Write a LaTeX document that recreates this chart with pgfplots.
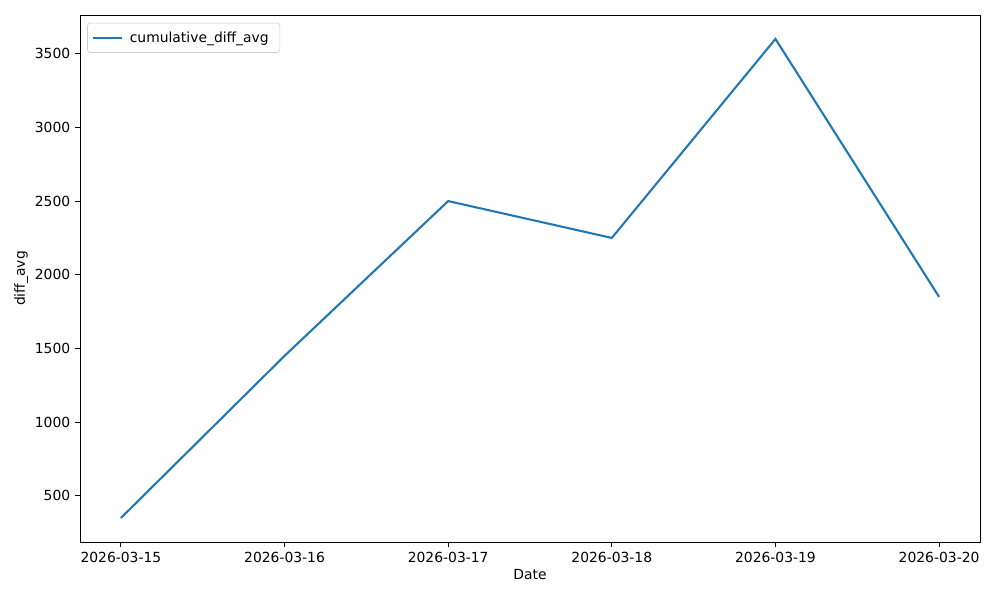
\documentclass[border=0pt]{standalone}
\usepackage{pgfplots}
\pgfplotsset{compat=1.18}
\usepackage{fontspec}
\setmainfont{DejaVu Sans}
\definecolor{tabblue}{HTML}{1F77B4}
\begin{document}
\begin{tikzpicture}
\begin{axis}[
  scale only axis,
  width=648pt, height=379.4pt,
  xmin=-0.25, xmax=5.25,
  ymin=187.5, ymax=3762.5,
  xtick={0,1,2,3,4,5},
  xticklabels={2026-03-15,2026-03-16,2026-03-17,2026-03-18,2026-03-19,2026-03-20},
  ytick={500,1000,1500,2000,2500,3000,3500},
  tick align=outside,
  tick pos=left,
  major tick length=3.5pt,
  every tick/.style={black, line width=0.8pt},
  axis line style={line width=0.6pt},
  /pgf/number format/assume math mode=true,
  /pgf/number format/1000 sep={},
  tick label style={font=\fontsize{10}{12}\selectfont},
  label style={font=\fontsize{10}{12}\selectfont},
  xlabel={Date}, ylabel={diff\_avg},
  xlabel style={yshift=2pt},
  ylabel style={yshift=-2pt},
  legend style={font=\fontsize{10}{12}\selectfont, draw=black!20, rounded corners=2pt, inner xsep=3pt, inner ysep=3pt, at={(0.008,0.985)}, anchor=north west, nodes={inner xsep=5pt, inner ysep=3pt}},
  legend cell align=left,
  legend image code/.code={\draw[#1, line width=1.5pt] (0pt,0pt) -- (21pt,0pt);},
]
\addplot[color=tabblue, line width=1.5pt] coordinates {
(0,350) (1,1450) (2,2500) (3,2250) (4,3600) (5,1850)
};
\addlegendentry{cumulative\_diff\_avg}
\end{axis}
\path ([shift={(-57.6pt,-41.8pt)}]current axis.south west) rectangle ([shift={(14.4pt,10.8pt)}]current axis.north east);
\end{tikzpicture}
\end{document}
